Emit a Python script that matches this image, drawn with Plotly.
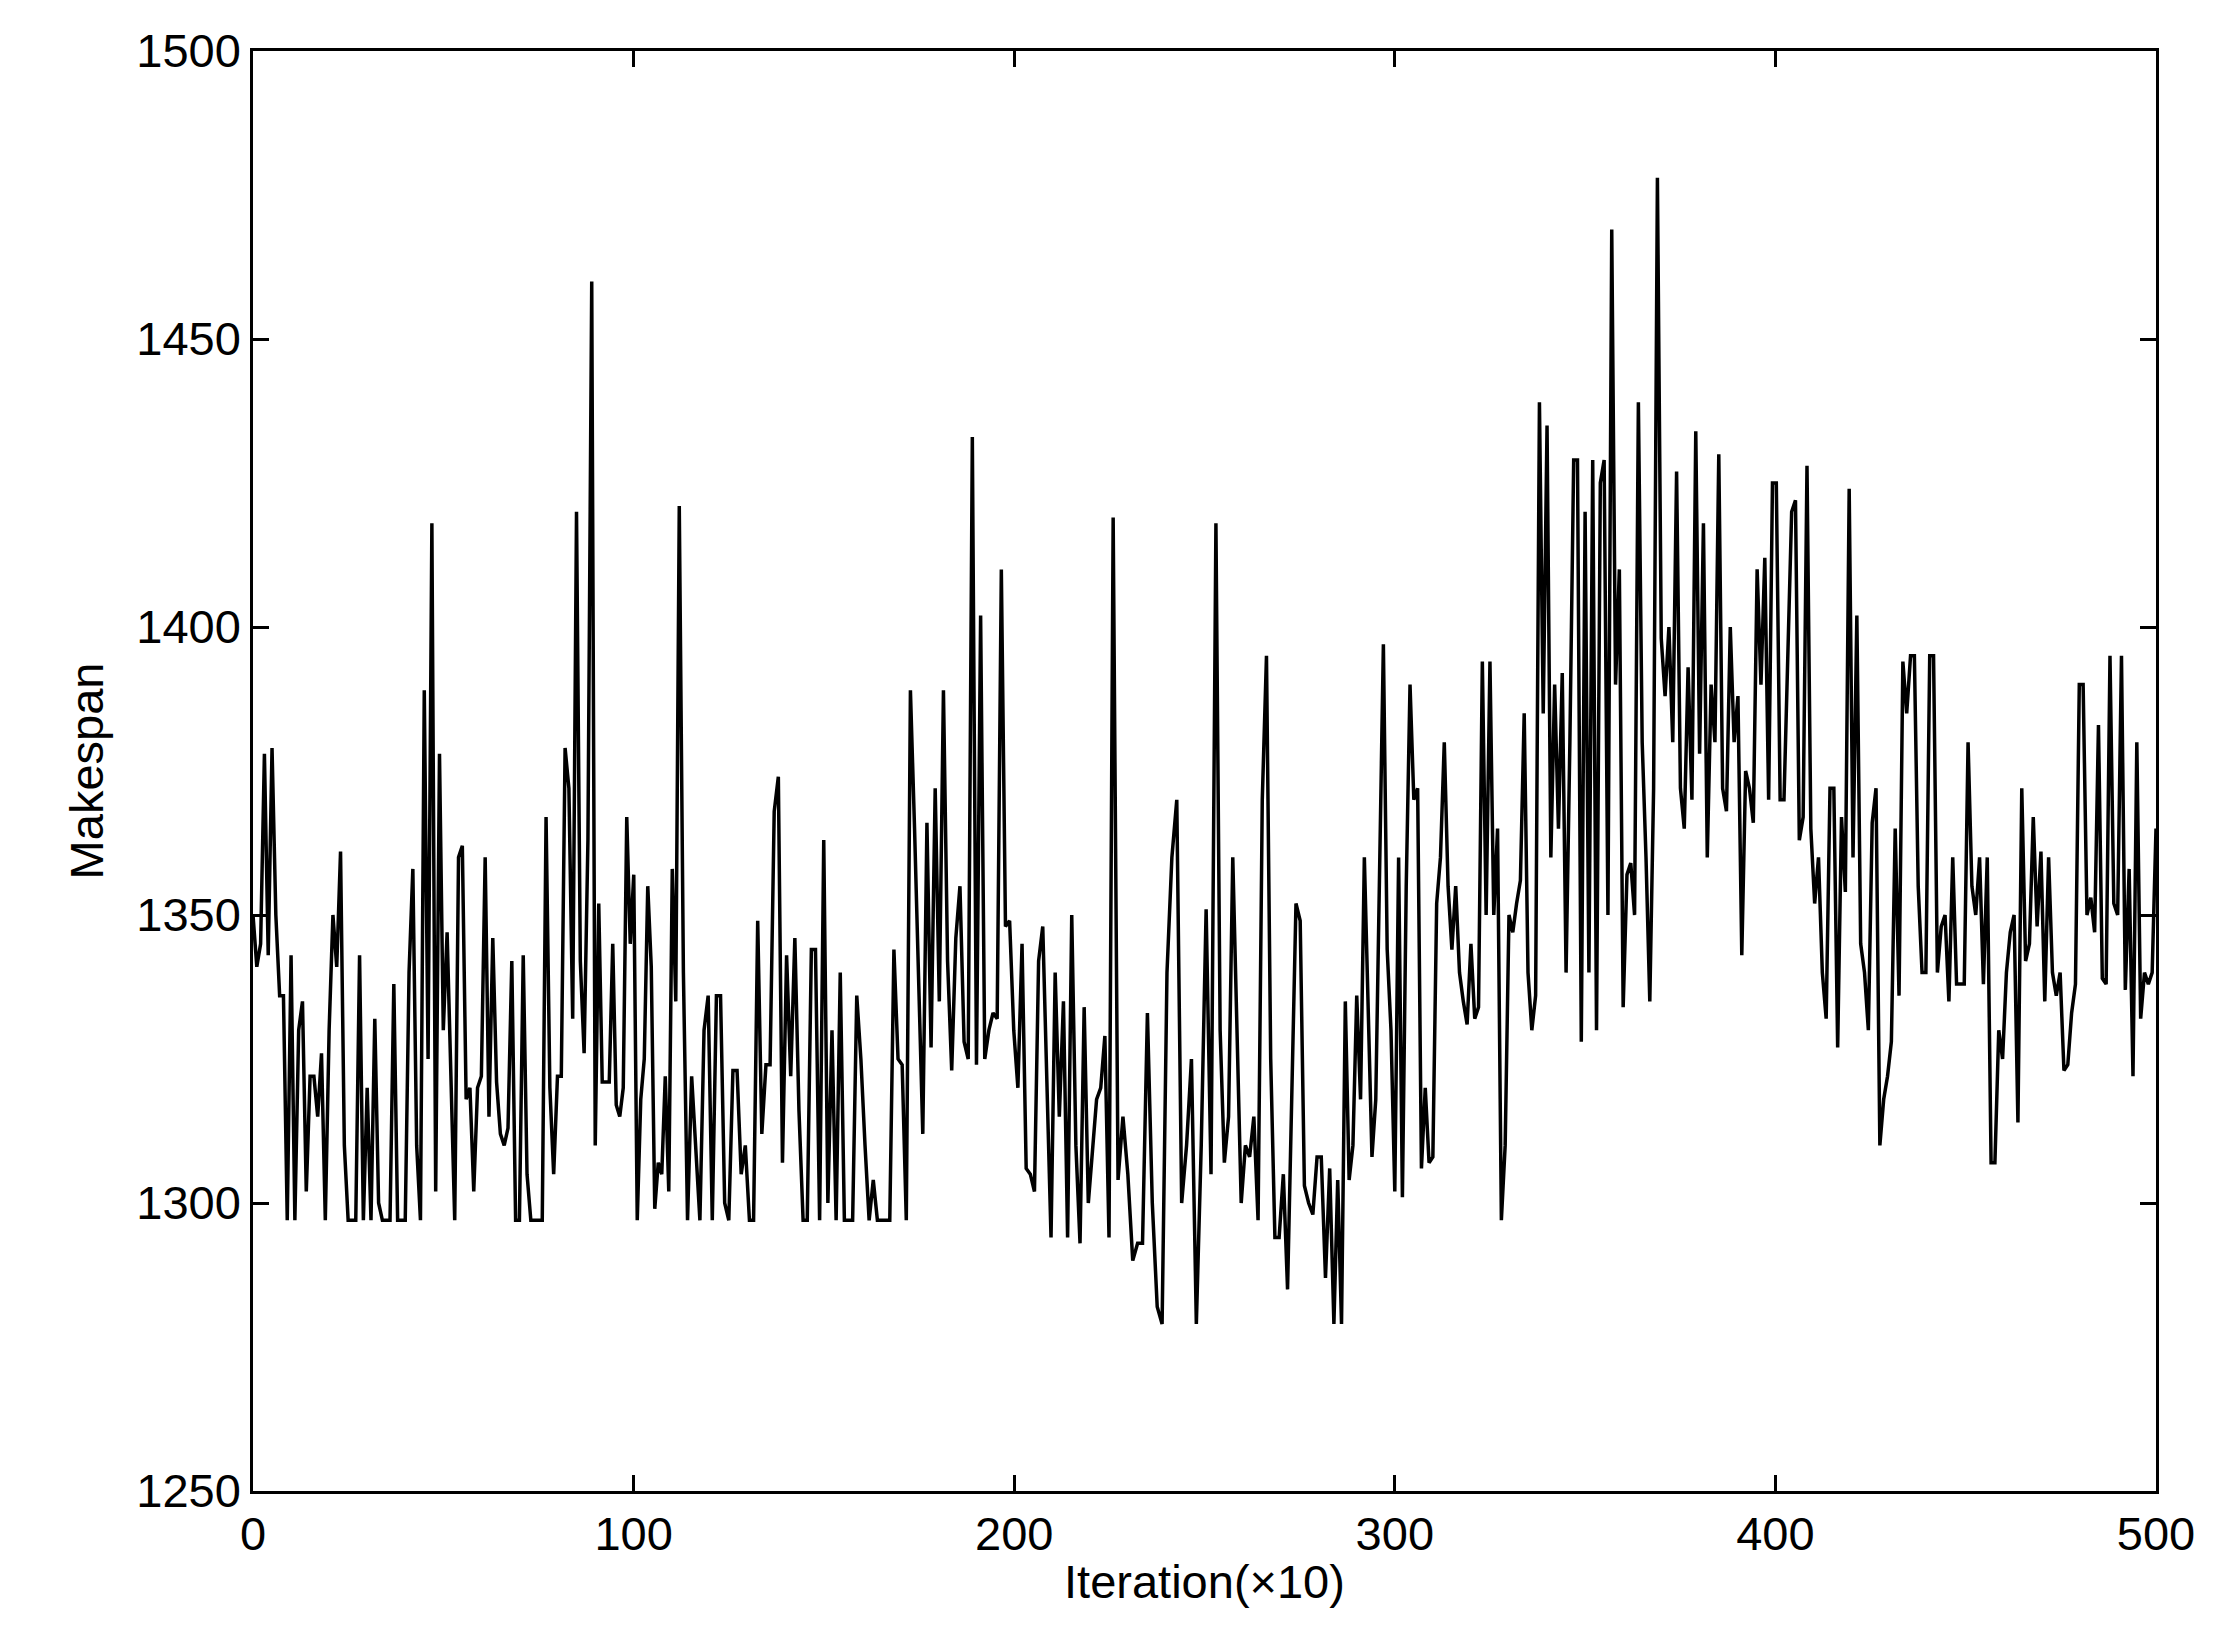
import plotly.graph_objects as go
import numpy as np

# samples: (sample index, makespan)
samples = [
    (0,1350),(1,1341),(2,1345),(3,1378),(4,1343),(5,1379),(6,1350),(7,1336),(8,1336),(9,1297),
    (10,1343),(11,1297),(12,1330),(13,1335),(14,1302),(15,1322),(16,1322),(17,1315),(18,1326),(19,1297),
    (20,1330),(21,1350),(22,1341),(23,1361),(24,1310),(25,1297),(27,1297),(28,1343),(29,1297),(30,1320),
    (31,1297),(32,1332),(33,1300),(34,1297),(36,1297),(37,1338),(38,1297),(40,1297),(41,1340),(42,1358),
    (43,1310),(44,1297),(45,1389),(46,1325),(47,1418),(48,1302),(49,1378),(50,1330),(51,1347),(52,1320),
    (53,1297),(54,1360),(55,1362),(56,1318),(57,1320),(58,1302),(59,1320),(60,1322),(61,1360),(62,1315),
    (63,1346),(64,1321),(65,1312),(66,1310),(67,1313),(68,1342),(69,1297),(70,1297),(71,1343),(72,1305),
    (73,1297),(76,1297),(77,1367),(78,1320),(79,1305),(80,1322),(81,1322),(82,1379),(83,1372),(84,1332),
    (85,1420),(86,1342),(87,1326),(88,1363),(89,1460),(90,1310),(91,1352),(92,1321),(93,1321),(94,1321),
    (95,1345),(96,1317),(97,1315),(98,1320),(99,1367),(100,1345),(101,1357),(102,1297),(103,1318),(104,1325),
    (105,1355),(106,1341),(107,1299),(108,1307),(109,1305),(110,1322),(111,1302),(112,1358),(113,1335),(114,1421),
    (115,1340),(116,1297),(117,1322),(118,1310),(119,1297),(120,1330),(121,1336),(122,1297),(123,1336),(124,1336),
    (125,1300),(126,1297),(127,1323),(128,1323),(129,1305),(130,1310),(131,1297),(132,1297),(133,1349),(134,1312),
    (135,1324),(136,1324),(137,1368),(138,1374),(139,1307),(140,1343),(141,1322),(142,1346),(143,1316),(144,1297),
    (145,1297),(146,1344),(147,1344),(148,1297),(149,1363),(150,1300),(151,1330),(152,1297),(153,1340),(154,1297),
    (156,1297),(157,1336),(158,1325),(159,1310),(160,1297),(161,1304),(162,1297),(165,1297),(166,1344),(167,1325),
    (168,1324),(169,1297),(170,1389),(171,1365),(172,1340),(173,1312),(174,1366),(175,1327),(176,1372),(177,1335),
    (178,1389),(179,1342),(180,1323),(181,1346),(182,1355),(183,1328),(184,1325),(185,1433),(186,1324),(187,1402),
    (188,1325),(189,1330),(190,1333),(191,1332),(192,1410),(193,1348),(194,1349),(195,1330),(196,1320),(197,1345),
    (198,1306),(199,1305),(200,1302),(201,1342),(202,1348),(203,1323),(204,1294),(205,1340),(206,1315),(207,1335),
    (208,1294),(209,1350),(210,1310),(211,1293),(212,1334),(213,1300),(214,1310),(215,1318),(216,1320),(217,1329),
    (218,1294),(219,1419),(220,1304),(221,1315),(222,1305),(223,1290),(224,1293),(225,1293),(226,1333),(227,1300),
    (228,1282),(229,1279),(230,1340),(231,1360),(232,1370),(233,1300),(234,1310),(235,1325),(236,1279),(237,1310),
    (238,1351),(239,1305),(240,1418),(241,1330),(242,1307),(243,1315),(244,1360),(245,1330),(246,1300),(247,1310),
    (248,1308),(249,1315),(250,1297),(251,1370),(252,1395),(253,1325),(254,1294),(255,1294),(256,1305),(257,1285),
    (258,1320),(259,1352),(260,1349),(261,1303),(262,1300),(263,1298),(264,1308),(265,1308),(266,1287),(267,1306),
    (268,1279),(269,1304),(270,1279),(271,1335),(272,1304),(273,1310),(274,1336),(275,1318),(276,1360),(277,1332),
    (278,1308),(279,1318),(280,1354),(281,1397),(282,1344),(283,1330),(284,1302),(285,1360),(286,1301),(287,1355),
    (288,1390),(289,1370),(290,1372),(291,1306),(292,1320),(293,1307),(294,1308),(295,1352),(296,1360),(297,1380),
    (298,1355),(299,1344),(300,1355),(301,1340),(302,1335),(303,1331),(304,1345),(305,1332),(306,1334),(307,1394),
    (308,1350),(309,1394),(310,1350),(311,1365),(312,1297),(313,1310),(314,1350),(315,1347),(316,1352),(317,1356),
    (318,1385),(319,1340),(320,1330),(321,1336),(322,1439),(323,1385),(324,1435),(325,1360),(326,1390),(327,1365),
    (328,1392),(329,1340),(330,1380),(331,1429),(332,1429),(333,1328),(334,1420),(335,1340),(336,1429),(337,1330),
    (338,1425),(339,1429),(340,1350),(341,1469),(342,1390),(343,1410),(344,1334),(345,1357),(346,1359),(347,1350),
    (348,1439),(349,1380),(350,1360),(351,1335),(352,1372),(353,1478),(354,1398),(355,1388),(356,1400),(357,1380),
    (358,1427),(359,1372),(360,1365),(361,1393),(362,1370),(363,1434),(364,1378),(365,1418),(366,1360),(367,1390),
    (368,1380),(369,1430),(370,1372),(371,1368),(372,1400),(373,1380),(374,1388),(375,1343),(376,1375),(377,1372),
    (378,1366),(379,1410),(380,1390),(381,1412),(382,1370),(383,1425),(384,1425),(385,1370),(386,1370),(387,1395),
    (388,1420),(389,1422),(390,1363),(391,1367),(392,1428),(393,1365),(394,1352),(395,1360),(396,1340),(397,1332),
    (398,1372),(399,1372),(400,1327),(401,1367),(402,1354),(403,1424),(404,1360),(405,1402),(406,1345),(407,1340),
    (408,1330),(409,1366),(410,1372),(411,1310),(412,1318),(413,1322),(414,1328),(415,1365),(416,1336),(417,1394),
    (418,1385),(419,1395),(420,1395),(421,1355),(422,1340),(423,1340),(424,1395),(425,1395),(426,1340),(427,1348),
    (428,1350),(429,1335),(430,1360),(431,1338),(432,1338),(433,1338),(434,1380),(435,1355),(436,1350),(437,1360),
    (438,1338),(439,1360),(440,1307),(441,1307),(442,1330),(443,1325),(444,1340),(445,1347),(446,1350),(447,1314),
    (448,1372),(449,1342),(450,1345),(451,1367),(452,1348),(453,1361),(454,1335),(455,1360),(456,1340),(457,1336),
    (458,1340),(459,1323),(460,1324),(461,1333),(462,1338),(463,1390),(464,1390),(465,1350),(466,1353),(467,1347),
    (468,1383),(469,1339),(470,1338),(471,1395),(472,1352),(473,1350),(474,1395),(475,1337),(476,1358),(477,1322),
    (478,1380),(479,1332),(480,1340),(481,1338),(482,1340),(483,1365),
]
# sample index -> iteration position, from peaks located on the picture
anchor_idx = [0, 89, 114, 185, 219, 240, 268, 353, 483]
anchor_iter = [0, 89, 112, 189, 226, 253, 284, 369, 500]

idx = [s[0] for s in samples]
makespan = [s[1] for s in samples]
iteration = np.interp(idx, anchor_idx, anchor_iter)

fig = go.Figure()
fig.add_trace(go.Scatter(x=iteration, y=makespan, mode='lines',
                         line=dict(color='black', width=3.5), showlegend=False))

axis_common = dict(showline=True, linecolor='black', linewidth=2.5, mirror='ticks',
                   ticks='inside', ticklen=16, tickwidth=2.5, tickcolor='black',
                   showgrid=False, zeroline=False,
                   tickfont=dict(family='Liberation Sans, Arial', size=47, color='black'),
                   title_font=dict(family='Liberation Sans, Arial', size=47, color='black'))

fig.update_xaxes(range=[0, 500], tickvals=[0, 100, 200, 300, 400, 500],
                 title_text='Iteration(\u00d710)', title_standoff=6, **axis_common)
fig.update_yaxes(range=[1250, 1500], tickvals=[1250, 1300, 1350, 1400, 1450, 1500],
                 title_text='Makespan', title_standoff=18, **axis_common)

fig.update_layout(width=2240, height=1651, plot_bgcolor='white', paper_bgcolor='white',
                  margin=dict(l=245, r=92, t=43, b=168))

fig.write_html("out.html")
